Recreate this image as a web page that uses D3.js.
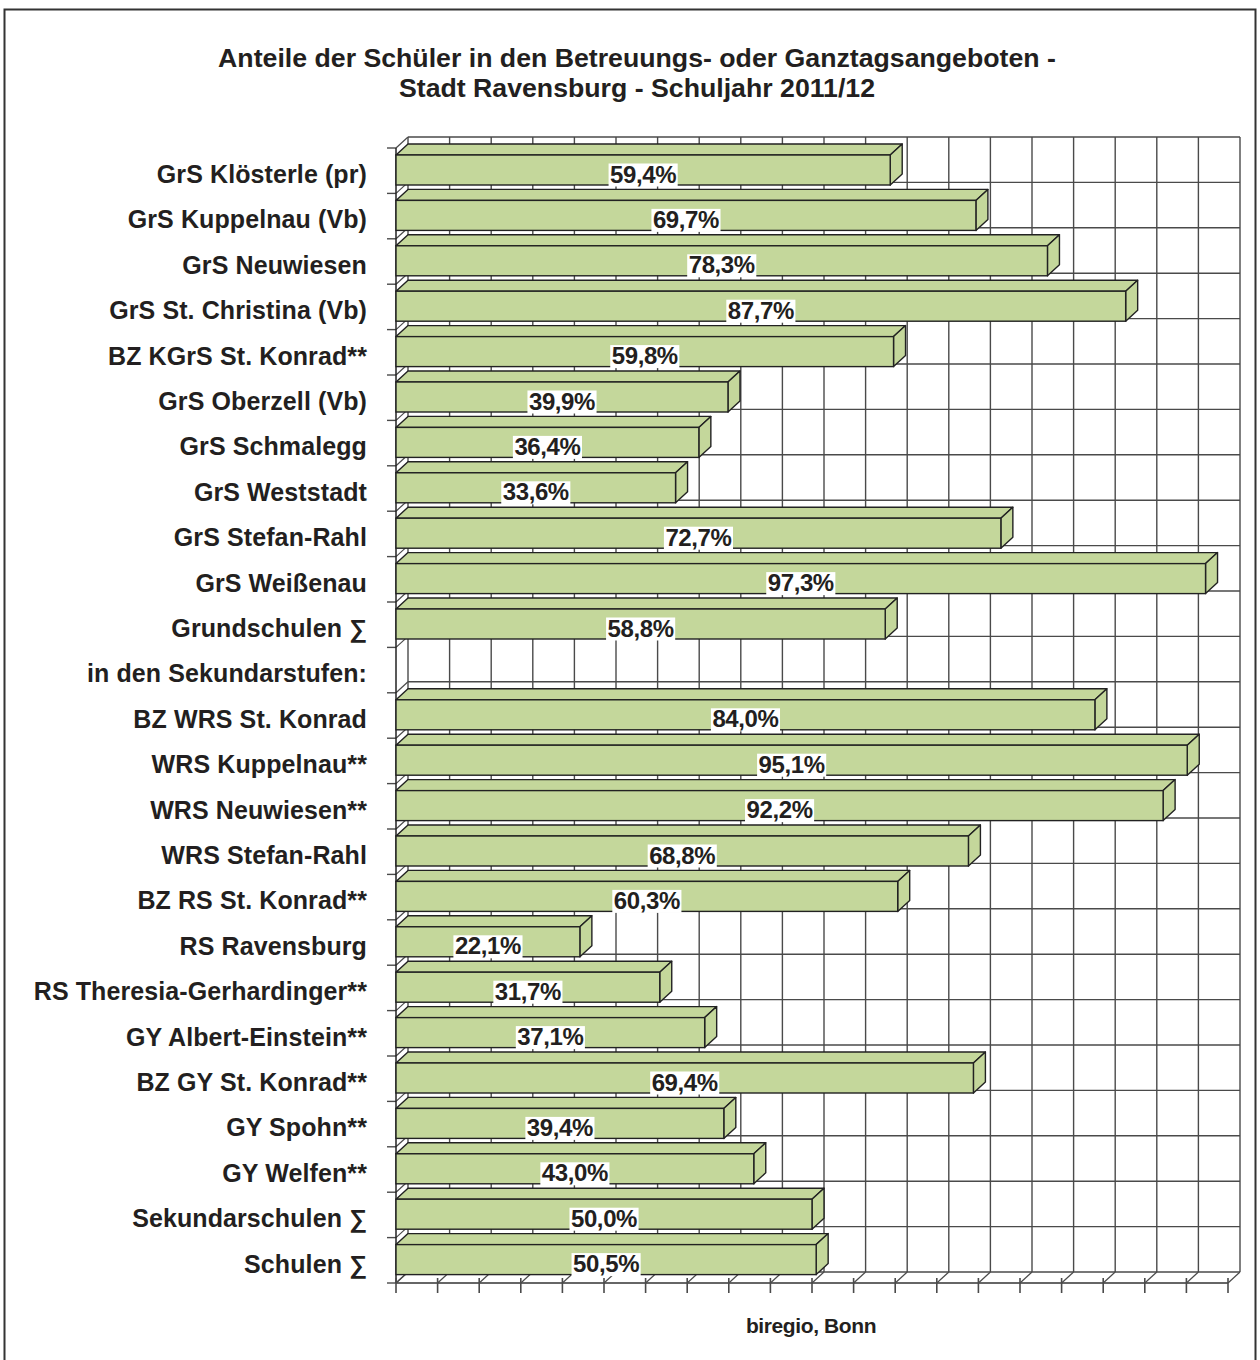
<!DOCTYPE html>
<html>
<head>
<meta charset="utf-8">
<script src="https://cdn.jsdelivr.net/npm/d3@7"></script>
<style>
  body { margin: 0; background: #fff; }
  text { font-family: "Liberation Sans", Arial, sans-serif; font-weight: bold; fill: #231f20; }
</style>
</head>
<body>
<div id="chart"></div>
<script>
const titleLines = [
  'Anteile der Schüler in den Betreuungs- oder Ganztagsangeboten -',
  'Stadt Ravensburg - Schuljahr 2011/12'
]
const categories = [
  'GrS Klösterle (pr)', 'GrS Kuppelnau (Vb)', 'GrS Neuwiesen', 'GrS St. Christina (Vb)',
  'BZ KGrS St. Konrad**', 'GrS Oberzell (Vb)', 'GrS Schmalegg', 'GrS Weststadt',
  'GrS Stefan-Rahl', 'GrS Weißenau', 'Grundschulen ∑', 'in den Sekundarstufen:',
  'BZ WRS St. Konrad', 'WRS Kuppelnau**', 'WRS Neuwiesen**', 'WRS Stefan-Rahl',
  'BZ RS St. Konrad**', 'RS Ravensburg', 'RS Theresia-Gerhardinger**', 'GY Albert-Einstein**',
  'BZ GY St. Konrad**', 'GY Spohn**', 'GY Welfen**', 'Sekundarschulen ∑', 'Schulen ∑'
]
const values = [
  59.4, 69.7, 78.3, 87.7, 59.8, 39.9, 36.4, 33.6, 72.7, 97.3, 58.8, null,
  84.0, 95.1, 92.2, 68.8, 60.3, 22.1, 31.7, 37.1, 69.4, 39.4, 43.0, 50.0, 50.5
]
const ticks = d3.range(0, 101, 5)
const source = 'biregio, Bonn'

const W = 1260, H = 1360
const pLeft = 396, pRight = 1228, pTop = 148, pBottom = 1283
const dx = 12, dy = 11
const green = '#c4d79b'
const gridColor = '#4a4a4a'

const svg = d3.select('#chart').append('svg')
    .attr('width', W)
    .attr('height', H)

// outer frame
svg.append('rect')
    .attr('x', 4.5).attr('y', 9.5)
    .attr('width', 1251).attr('height', H)
    .attr('fill', 'none').attr('stroke', '#333').attr('stroke-width', 2)

svg.selectAll('.title')
    .data(titleLines)
    .enter().append('text')
    .attr('class', 'title')
    .attr('x', 637)
    .attr('y', (d, i) => 67 + i * 30)
    .attr('text-anchor', 'middle')
    .attr('font-size', 26.7)
    .text(d => d)

const x = d3.scaleLinear().domain([0, 100]).range([pLeft, pRight])
const y = d3.scaleBand().domain(categories).range([pTop, pBottom])

const g = svg.append('g')
const line = (x1, y1, x2, y2, color, w) => g.append('line')
    .attr('x1', x1).attr('y1', y1).attr('x2', x2).attr('y2', y2)
    .attr('stroke', color).attr('stroke-width', w)

// back wall: vertical gridlines
ticks.forEach(t => line(x(t) + dx, pTop - dy, x(t) + dx, pBottom - dy, gridColor, 1.4))
// back wall: horizontal gridlines at band boundaries
const bounds = categories.map(c => y(c)).concat([pBottom])
bounds.forEach(b => line(pLeft + dx, b - dy, pRight + dx, b - dy, gridColor, 1.4))
// left wall diagonals + ticks
bounds.forEach(b => {
  line(pLeft, b, pLeft + dx, b - dy, gridColor, 1.2)
  line(pLeft - 9, b, pLeft, b, gridColor, 1.4)
})
line(pLeft, pTop, pLeft, pBottom, '#222', 1.5)
// floor
line(pLeft, pBottom, pRight, pBottom, '#333', 1.5)
ticks.forEach(t => {
  line(x(t), pBottom, x(t) + dx, pBottom - dy, gridColor, 1.2)
  line(x(t), pBottom - 5, x(t), pBottom + 10, gridColor, 1.6)
})

// bars
const rows = categories.map((c, i) => ({ c, v: values[i] })).filter(d => d.v !== null)
const barTop = d => y(d.c) + 7
const barH = 30

const bars = g.selectAll('.bar').data(rows).enter().append('g').attr('class', 'bar')
bars.append('path')
    .attr('d', d => {
      const x0 = x(0), x1 = x(d.v), y0 = barTop(d)
      return `M${x0},${y0}L${x0 + dx},${y0 - dy}L${x1 + dx},${y0 - dy}L${x1},${y0}Z`
    })
    .attr('fill', green).attr('stroke', '#222').attr('stroke-width', 1.4)
    .attr('stroke-linejoin', 'round')
bars.append('path')
    .attr('d', d => {
      const x1 = x(d.v), y0 = barTop(d)
      return `M${x1},${y0}L${x1 + dx},${y0 - dy}L${x1 + dx},${y0 + barH - dy}L${x1},${y0 + barH}Z`
    })
    .attr('fill', green).attr('stroke', '#222').attr('stroke-width', 1.4)
    .attr('stroke-linejoin', 'round')
bars.append('rect')
    .attr('x', x(0))
    .attr('y', barTop)
    .attr('width', d => x(d.v) - x(0))
    .attr('height', barH)
    .attr('fill', green).attr('stroke', '#222').attr('stroke-width', 1.4)

// value labels
const fmt = v => d3.format('.1f')(v).replace('.', ',') + '%'
const labels = g.selectAll('.val').data(rows).enter().append('g').attr('class', 'val')
labels.append('text')
    .attr('x', d => (x(0) + x(d.v)) / 2)
    .attr('y', d => barTop(d) + barH - 2.5)
    .attr('text-anchor', 'middle')
    .attr('font-size', 24)
    .attr('letter-spacing', -0.4)
    .text(d => fmt(d.v))
labels.each(function () {
  const t = d3.select(this).select('text')
  const bb = t.node().getBBox()
  d3.select(this).insert('rect', 'text')
      .attr('x', bb.x - 1.5)
      .attr('y', bb.y + 3)
      .attr('width', bb.width + 3)
      .attr('height', bb.height - 4)
      .attr('fill', '#fff')
})

// category labels
svg.selectAll('.cat')
    .data(categories)
    .enter().append('text')
    .attr('class', 'cat')
    .attr('x', 367)
    .attr('y', d => y(d) + 35)
    .attr('text-anchor', 'end')
    .attr('font-size', 25)
    .attr('letter-spacing', 0.1)
    .text(d => d)

svg.append('text')
    .attr('x', 811)
    .attr('y', 1333)
    .attr('text-anchor', 'middle')
    .attr('font-size', 21)
    .attr('letter-spacing', -0.4)
    .text(source)
</script>
</body>
</html>
